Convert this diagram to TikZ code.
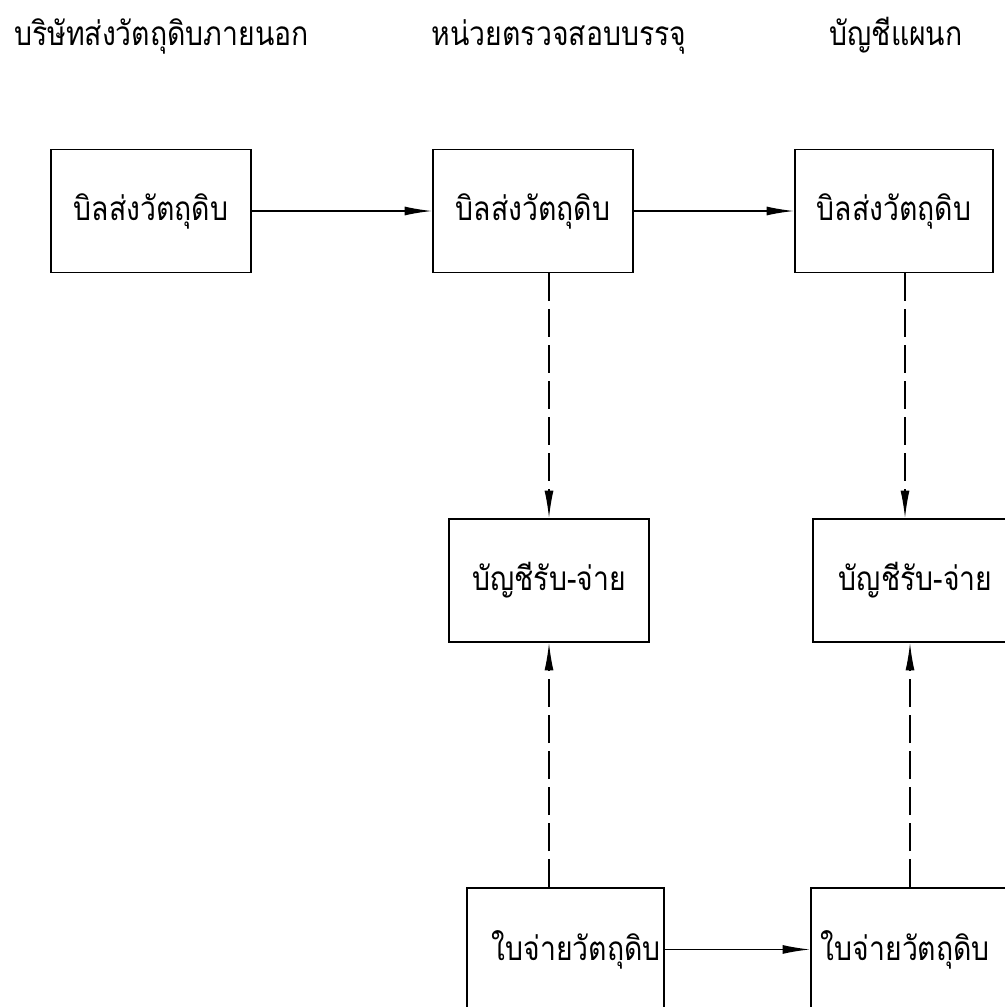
\documentclass[tikz,border=0pt]{standalone}
\usepackage{fontspec}
\newfontfamily\thaifont[Script=Thai,FakeStretch=0.85]{Loma}
\usetikzlibrary{arrows.meta}

\begin{document}
\begin{tikzpicture}[x=0.02cm,y=-0.02cm,
	box/.style={draw,line width=1.1pt,minimum width=4cm,minimum height=2.46cm,
		inner sep=0pt,font=\thaifont\fontsize{19}{23}\selectfont},
	head/.style={anchor=base,font=\thaifont\fontsize{19}{23}\selectfont},
	flow/.style={line width=0.8pt,-{Latex[length=5.5mm,width=1.8mm]}},
	dashflow/.style={flow,dash pattern=on 5.6mm off 1.6mm}]
	\useasboundingbox (0,0) rectangle (1004,1007);
	% headers
	\node[head,anchor=base west] (h1) at (8,46) {บริษัทส่งวัตถุดิบภายนอก};
	\node[head] (h2) at (559,46) {หน่วยตรวจสอบบรรจุ};
	\node[head] (h3) at (896,46) {บัญชีแผนก};
	% top row
	\node[box] (bill1) at (151,211) {บิลส่งวัตถุดิบ};
	\node[box] (bill2) at (533,211) {บิลส่งวัตถุดิบ};
	\node[box,minimum width=3.96cm] (bill3) at (894,211) {บิลส่งวัตถุดิบ};
	% middle row
	\node[box] (acc2) at (549,580.5) {บัญชีรับ-จ่าย};
	\node[box,anchor=west,text width=5cm,align=left,inner xsep=0.52cm]
		(acc3) at (812,580.5) {บัญชีรับ-จ่าย};
	% bottom row
	\node[box,anchor=north west,minimum width=3.94cm,text width=3.82cm,
		align=right,inner xsep=0.06cm] (slip2) at (466,887) {ใบจ่ายวัตถุดิบ};
	\node[box,anchor=north west,text width=6cm,align=left,inner xsep=0.2cm]
		(slip3) at (810,887) {ใบจ่ายวัตถุดิบ};
	% bills
	\draw[flow] (bill1) -- (bill2);
	\draw[flow] (bill2) -- (bill3);
	\draw[dashflow] (acc2.north |- bill2.south) -- (acc2.north);
	\path (acc3.north west) ++(93,0) coordinate (acc3in);
	\draw[dashflow] (acc3in |- bill3.south) -- (acc3in);
	% slips
	\draw[dashflow] (acc2.south |- slip2.north) -- (acc2.south);
	\path (acc3.south west) ++(98,0) coordinate (acc3up);
	\draw[dashflow] (acc3up |- slip3.north) -- (acc3up);
	\draw[flow] (slip2) -- (slip3);
\end{tikzpicture}
\end{document}
